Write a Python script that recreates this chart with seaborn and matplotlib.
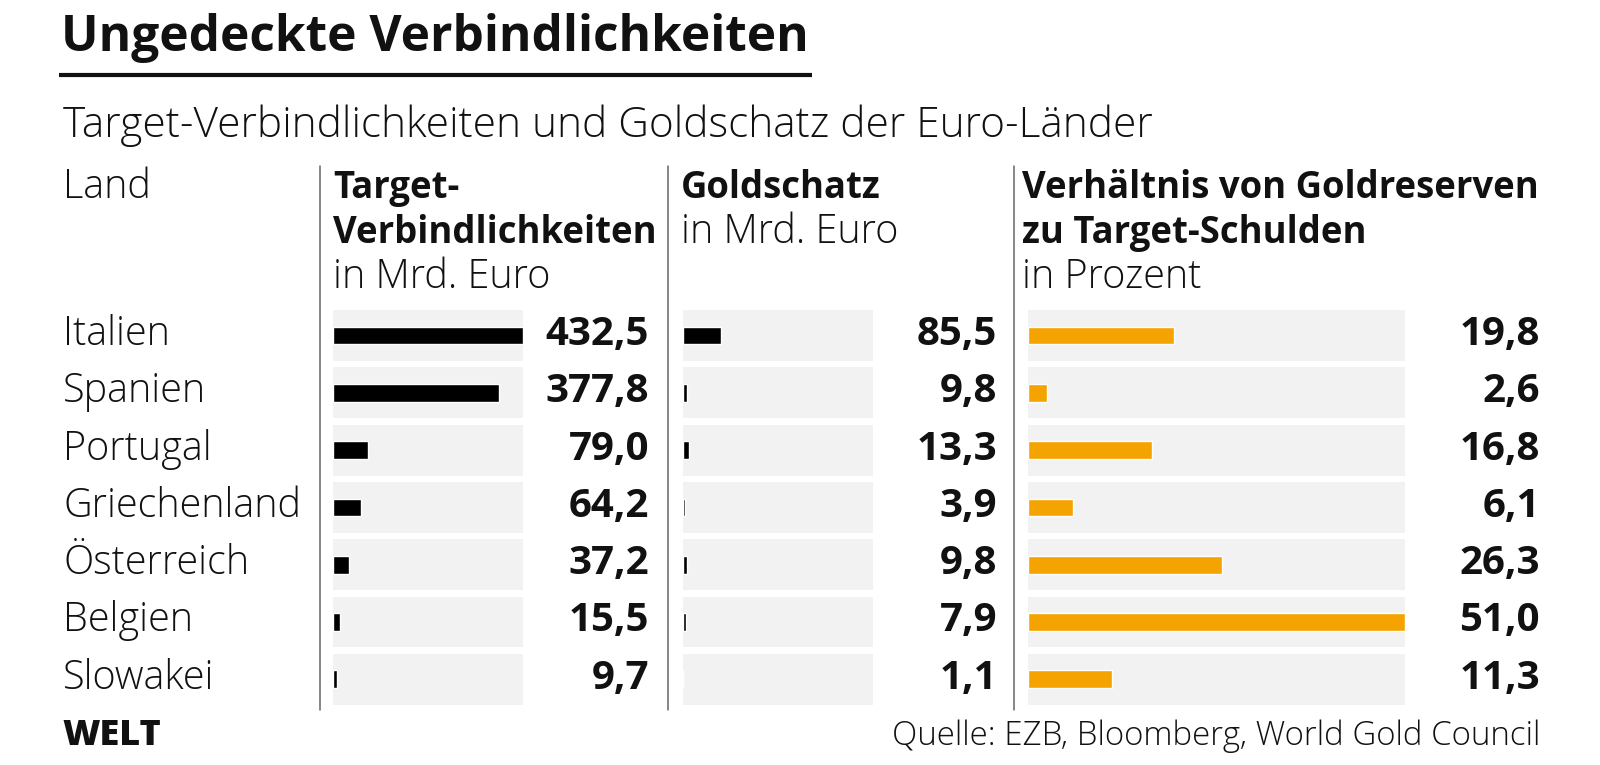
import matplotlib
matplotlib.use("Agg")
import matplotlib.pyplot as plt
import matplotlib.transforms as mtransforms
from matplotlib.lines import Line2D
import seaborn as sns
import pandas as pd
import numpy as np

# ---------------- data ----------------
laender = ["Italien", "Spanien", "Portugal", "Griechenland", "Österreich", "Belgien", "Slowakei"]
target = [432.5, 377.8, 79.0, 64.2, 37.2, 15.5, 9.7]
gold = [85.5, 9.8, 13.3, 3.9, 9.8, 7.9, 1.1]
verhaeltnis = [19.8, 2.6, 16.8, 6.1, 26.3, 51.0, 11.3]

title = "Ungedeckte Verbindlichkeiten"
subtitle = "Target-Verbindlichkeiten und Goldschatz der Euro-Länder"
source = "Quelle: EZB, Bloomberg, World Gold Council"

df = pd.DataFrame({"Land": laender, "Target": target, "Gold": gold, "Verh": verhaeltnis})

# ---------------- style ----------------
sns.set_theme(style="white")
plt.rcParams["font.family"] = ["Open Sans", "DejaVu Sans"]

W, H = 1600, 765
fig = plt.figure(figsize=(16, 7.65), dpi=100)
fig.patch.set_facecolor("white")

def fx(px):
    return px / W

def fy(py):
    return 1 - py / H

GREY = "#f2f2f2"
ORANGE = "#f5a300"
INK = "#111111"
ROW_C0, ROW_STEP = 335.5, 57.3
n = len(df)
ROW_TOP = ROW_C0 - ROW_STEP / 2
ROW_BOTTOM = ROW_C0 + ROW_STEP * (n - 0.5)

FS_HDR = 26.3   # bold headers
FS_LBL = 28.5   # light labels
FS_VAL = 29     # bold values
LIGHT = "light"

# title & subtitle
fig.text(fx(61), fy(51), title, fontsize=35.7, fontweight="bold", va="baseline", ha="left", color=INK)
fig.add_artist(Line2D([fx(59), fx(812)], [fy(75), fy(75)], transform=fig.transFigure,
                      color=INK, lw=3, solid_capstyle="butt"))
fig.text(fx(63), fy(137), subtitle, fontsize=30.5, fontweight=LIGHT, va="baseline", ha="left", color=INK)

# header rows
hdr_y = [198, 243, 288]
def htxt(x, row, s, bold):
    fig.text(fx(x), fy(hdr_y[row]), s, fontsize=FS_HDR if bold else FS_LBL,
             fontweight="bold" if bold else LIGHT, va="baseline", ha="left", color=INK)

htxt(63, 0, "Land", False)
htxt(333, 0, "Target-", True)
htxt(333, 1, "Verbindlichkeiten", True)
htxt(333, 2, "in Mrd. Euro", False)
htxt(681, 0, "Goldschatz", True)
htxt(681, 1, "in Mrd. Euro", False)
htxt(1022, 0, "Verhältnis von Goldreserven", True)
htxt(1022, 1, "zu Target-Schulden", True)
htxt(1022, 2, "in Prozent", False)

# dividers
for xd in [320, 668, 1014]:
    fig.add_artist(Line2D([fx(xd), fx(xd)], [fy(166), fy(710)], transform=fig.transFigure,
                          color="#666666", lw=1.1))

# columns: (col, left px, right px, xmax, colour, value right px)
cols = [
    ("Target", 333, 523, max(target), "black", 649),
    ("Gold", 683, 873, max(target), "black", 997),
    ("Verh", 1028, 1405, max(verhaeltnis), ORANGE, 1540),
]

BASE_OFF = 0.165  # text baseline below row centre (row units)
axes = []
for col, x0, x1, xmax, color, vx in cols:
    ax = fig.add_axes([fx(x0), fy(ROW_BOTTOM), fx(x1) - fx(x0), (ROW_BOTTOM - ROW_TOP) / H])
    sns.barplot(data=df, x=col, y="Land", orient="h", color=color, width=0.31,
                saturation=1, ax=ax, zorder=3)
    ax.barh(np.arange(n), np.full(n, xmax), height=0.89, color=GREY, zorder=1, linewidth=0)
    ax.set_xlim(0, xmax)
    ax.set_ylim(n - 0.5, -0.5)
    ax.set_axis_off()
    trans = mtransforms.blended_transform_factory(fig.transFigure, ax.transData)
    for i, v in enumerate(df[col]):
        ax.text(fx(vx), i + BASE_OFF, f"{v:.1f}".replace(".", ","), transform=trans,
                ha="right", va="baseline", fontsize=FS_VAL, fontweight="bold", color=INK)
    axes.append(ax)

trans = mtransforms.blended_transform_factory(fig.transFigure, axes[0].transData)
for i, name in enumerate(laender):
    axes[0].text(fx(63), i + BASE_OFF, name, transform=trans, ha="left", va="baseline",
                 fontsize=FS_LBL, fontweight=LIGHT, color=INK)

# footer
fig.text(fx(62), fy(745), "WELT", fontsize=26, fontweight="heavy", va="baseline", ha="left", color=INK)
fig.text(fx(1540), fy(745), source, fontsize=23.8, fontweight=LIGHT, va="baseline", ha="right", color=INK)

fig.savefig("out.png", dpi=100, facecolor="white")
